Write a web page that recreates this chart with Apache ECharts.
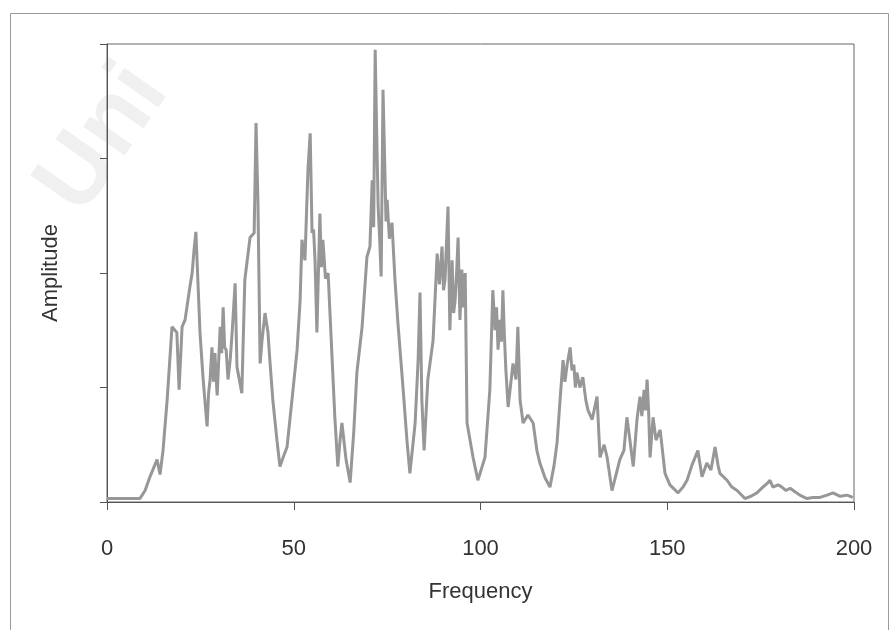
<!DOCTYPE html>
<html>
<head>
<meta charset="utf-8">
<script src="https://cdn.jsdelivr.net/npm/echarts@6/dist/echarts.min.js"></script>
<style>
html,body{margin:0;padding:0;background:#fff;}
#chart{width:892px;height:630px;}
</style>
</head>
<body>
<div id="chart"></div>
<script>
var xTicks = [0, 50, 100, 150, 200];
var xTitle = 'Frequency';
var yTitle = 'Amplitude';

var frequency = [
  0, 4.8, 8.8, 10.2, 11.5, 13.4, 14.2, 15.0, 16.1, 17.4,
  18.7, 19.3, 20.1, 20.9, 22.2, 22.8, 23.3, 23.8, 24.4, 24.9,
  25.7, 26.2, 26.8, 27.2, 27.6, 28.1, 28.5, 28.9, 29.2, 29.5,
  30.3, 30.7, 31.1, 31.5, 31.9, 32.4, 33.0, 33.5, 34.3, 34.8,
  36.1, 36.9, 38.3, 39.4, 39.9, 40.4, 41.0, 41.5, 42.3, 43.1,
  43.6, 44.4, 45.5, 46.3, 47.4, 48.2, 49.8, 50.9, 51.7, 52.2,
  53.0, 53.8, 54.4, 54.9, 55.3, 55.7, 56.2, 57.0, 57.4, 57.8,
  58.5, 59.2, 60.2, 61.0, 61.8, 62.4, 62.9, 64.0, 65.1, 66.1,
  66.9, 68.3, 69.6, 70.4, 71.0, 71.4, 71.8, 72.3, 72.6, 73.0,
  73.4, 73.9, 74.4, 74.7, 75.0, 75.6, 76.3, 77.1, 77.9, 79.3,
  80.3, 81.1, 82.5, 83.3, 83.8, 84.3, 84.9, 85.9, 87.3, 88.4,
  89.0, 89.7, 90.1, 90.5, 91.3, 91.8, 92.4, 92.8, 93.2, 93.6,
  94.0, 94.5, 95.0, 95.4, 95.9, 96.4, 98.0, 99.3, 101.2, 102.5,
  103.3, 103.9, 104.3, 104.7, 105.2, 105.6, 106.0, 106.4, 106.8, 107.4,
  108.7, 109.5, 110.0, 110.6, 111.4, 112.7, 114.1, 115.1, 115.9, 117.3,
  118.6, 119.7, 120.5, 121.3, 122.1, 122.6, 123.2, 124.0, 124.5, 125.0,
  125.4, 125.8, 126.6, 127.4, 128.2, 128.8, 129.9, 131.2, 132.0, 133.1,
  133.9, 135.2, 136.3, 137.3, 138.4, 139.2, 140.0, 140.9, 141.9, 142.7,
  143.2, 143.8, 144.2, 144.6, 145.0, 145.4, 146.2, 147.0, 148.1, 149.4,
  150.7, 152.9, 154.2, 155.3, 156.6, 158.2, 159.3, 160.6, 161.7, 162.8,
  163.6, 164.1, 166.0, 167.3, 168.7, 170.8, 172.4, 174.0, 175.6, 177.0,
  177.5, 178.3, 179.7, 180.7, 181.8, 182.9, 184.2, 185.5, 187.4, 189.0,
  190.9, 192.8, 194.4, 196.3, 198.1, 199.7
];

var amplitude = [
  0.03, 0.03, 0.03, 0.10, 0.22, 0.37, 0.24, 0.45, 0.89, 1.53,
  1.48, 0.98, 1.53, 1.59, 1.88, 2.00, 2.20, 2.36, 1.88, 1.48,
  1.09, 0.89, 0.66, 0.95, 1.07, 1.35, 1.05, 1.30, 1.10, 0.93,
  1.53, 1.30, 1.70, 1.35, 1.33, 1.07, 1.25, 1.48, 1.91, 1.18,
  0.95, 1.94, 2.31, 2.35, 3.31, 2.64, 1.21, 1.41, 1.65, 1.48,
  1.24, 0.89, 0.54, 0.31, 0.41, 0.48, 0.98, 1.33, 1.76, 2.29,
  2.11, 2.90, 3.22, 2.35, 2.38, 2.11, 1.48, 2.52, 2.05, 2.29,
  1.95, 2.00, 1.30, 0.74, 0.31, 0.54, 0.69, 0.37, 0.17, 0.63,
  1.13, 1.53, 2.14, 2.23, 2.81, 2.40, 3.95, 3.07, 2.58, 2.30,
  1.97, 3.60, 2.90, 2.45, 2.64, 2.30, 2.44, 1.94, 1.56, 0.98,
  0.54, 0.25, 0.69, 1.24, 1.83, 0.89, 0.45, 1.07, 1.41, 2.17,
  1.90, 2.23, 1.85, 1.94, 2.58, 1.50, 2.11, 1.65, 1.76, 2.00,
  2.31, 1.59, 2.03, 1.70, 2.00, 0.69, 0.39, 0.19, 0.39, 0.98,
  1.85, 1.50, 1.70, 1.33, 1.59, 1.40, 1.85, 1.45, 1.15, 0.83,
  1.21, 1.07, 1.53, 0.89, 0.69, 0.76, 0.69, 0.45, 0.34, 0.21,
  0.13, 0.32, 0.52, 0.89, 1.24, 1.05, 1.20, 1.35, 1.15, 1.20,
  1.00, 1.13, 1.00, 1.09, 0.89, 0.80, 0.72, 0.92, 0.39, 0.50,
  0.39, 0.10, 0.24, 0.37, 0.45, 0.74, 0.54, 0.31, 0.72, 0.92,
  0.75, 0.98, 0.80, 1.07, 0.80, 0.39, 0.74, 0.54, 0.63, 0.25,
  0.15, 0.08, 0.13, 0.19, 0.32, 0.45, 0.22, 0.34, 0.28, 0.48,
  0.32, 0.25, 0.19, 0.13, 0.10, 0.03, 0.05, 0.08, 0.13, 0.17,
  0.19, 0.13, 0.15, 0.13, 0.10, 0.12, 0.09, 0.06, 0.03, 0.04,
  0.04, 0.06, 0.08, 0.05, 0.06, 0.04
];

var seriesData = frequency.map(function (f, i) { return [f, amplitude[i]]; });

var chart = echarts.init(document.getElementById('chart'), null, {renderer: 'canvas'});
var font = '"Liberation Sans", Arial, sans-serif';
chart.setOption({
  animation: false,
  backgroundColor: '#ffffff',
  graphic: [
    {
      type: 'rect', z: -10, silent: true,
      shape: {x: 10.5, y: 13.5, width: 878, height: 640},
      style: {fill: 'none', stroke: '#9a9a9a', lineWidth: 1}
    },
    {
      type: 'text', z: -20, silent: true,
      x: 20, y: 175, rotation: Math.PI * 55 / 180,
      style: {text: 'Uni', font: 'bold 96px "Liberation Sans", Arial', fill: 'rgba(0,0,0,0.06)'}
    }
  ],
  grid: {
    left: 107, right: 38, top: 44, bottom: 128,
    show: true, borderColor: '#666', borderWidth: 1, backgroundColor: 'transparent'
  },
  xAxis: {
    type: 'value', min: 0, max: 200, interval: 50,
    name: xTitle, nameLocation: 'middle', nameGap: 79,
    nameTextStyle: {fontFamily: font, fontSize: 22, color: '#333'},
    axisLine: {show: true, lineStyle: {color: '#555', width: 1}},
    axisTick: {show: true, length: 8, lineStyle: {color: '#555'}},
    axisLabel: {
      fontFamily: font, fontSize: 22, color: '#333', margin: 36,
      formatter: function (v) { return xTicks.indexOf(v) >= 0 ? String(v) : ''; }
    },
    splitLine: {show: false}
  },
  yAxis: {
    type: 'value', min: 0, max: 4, interval: 1,
    name: yTitle, nameLocation: 'middle', nameGap: 45, nameRotate: 90,
    nameTextStyle: {fontFamily: font, fontSize: 22, color: '#333'},
    axisLine: {show: true, lineStyle: {color: '#555', width: 1}},
    axisTick: {show: true, length: 7, lineStyle: {color: '#555'}},
    axisLabel: {show: false},
    splitLine: {show: false}
  },
  series: [{
    type: 'line',
    data: seriesData,
    showSymbol: false,
    smooth: false,
    lineStyle: {color: '#979797', width: 3},
    clip: false
  }]
});
</script>
</body>
</html>
